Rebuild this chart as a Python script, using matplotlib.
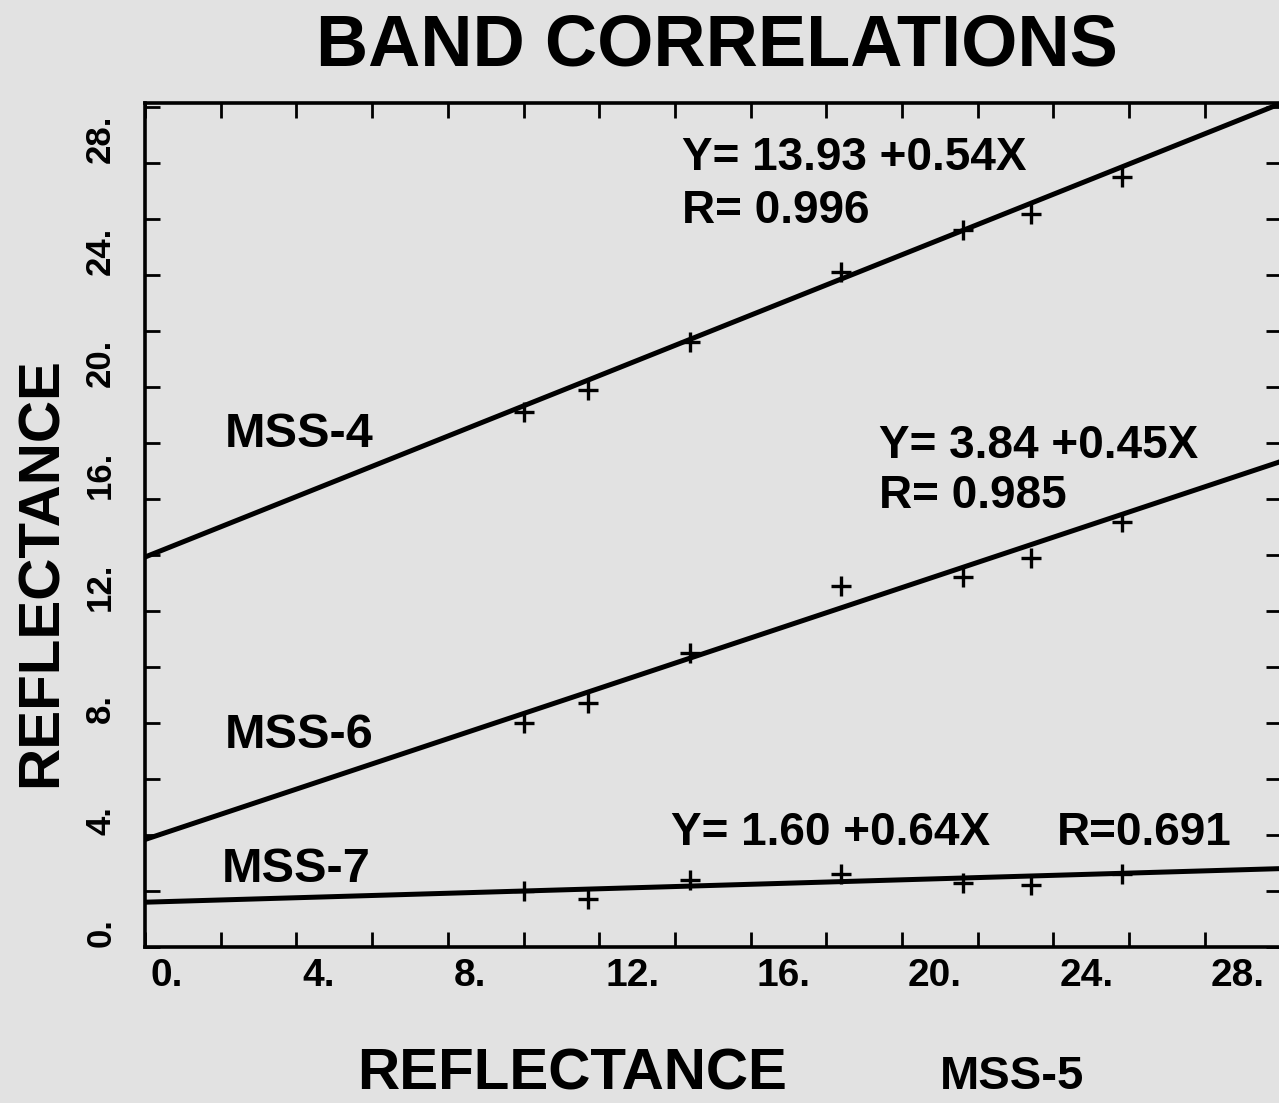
import matplotlib
matplotlib.use("Agg")
import matplotlib.pyplot as plt
import matplotlib.transforms as mtransforms
import numpy as np

# MSS-5 reflectance (x) for the seven sample points
mss5 = [10.0, 11.7, 14.4, 18.4, 21.6, 23.4, 25.8]

# band reflectances
mss4 = [19.1, 19.9, 21.6, 24.1, 25.6, 26.2, 27.5]
mss6 = [8.0, 8.7, 10.5, 12.9, 13.2, 13.9, 15.2]
mss7 = [2.0, 1.7, 2.4, 2.6, 2.3, 2.2, 2.6]

bands = ["MSS-4", "MSS-6", "MSS-7"]
# regression lines as drawn (the MSS-7 line is drawn much flatter than its label says)
intercepts = [13.93, 3.84, 1.60]
slopes = [0.54, 0.45, 0.04]

eq_labels = ["Y= 13.93 +0.54X", "Y= 3.84 +0.45X", "Y= 1.60 +0.64X"]
r_labels = ["R= 0.996", "R= 0.985", "R=0.691"]

xticks_major = [0, 4, 8, 12, 16, 20, 24, 28]
yticks_major = [0, 4, 8, 12, 16, 20, 24, 28]

BG = "#e2e2e2"
FONT = "Liberation Sans"
W, H = 1279, 1103

fig = plt.figure(figsize=(W / 100, H / 100), dpi=100, facecolor=BG)
ax = fig.add_axes([145 / W, 1 - 947 / H, 1135.5 / W, 844 / H], facecolor=BG)

xs = np.array([0, 30])
for b0, b1 in zip(intercepts, slopes):
    ax.plot(xs, b0 + b1 * xs, color="black", lw=3.6, solid_capstyle="butt", zorder=3)

for ys in (mss4, mss6, mss7):
    ax.plot(mss5, ys, linestyle="none", marker="+", ms=14, mew=2.4, color="black", zorder=4)

ax.set_xlim(0, 30)
ax.set_ylim(0, 30.15)

ax.set_xticks(xticks_major)
ax.set_xticks([2, 6, 10, 14, 18, 22, 26], minor=True)
ax.set_yticks(yticks_major)
ax.set_yticks([2, 6, 10, 14, 18, 22, 26, 30], minor=True)
ax.set_xticklabels([f"{v}." for v in xticks_major])
ax.set_yticklabels([f"{v}." for v in yticks_major])

ax.tick_params(which="both", direction="in", top=True, right=True,
               length=11, width=2, color="black")
ax.tick_params(axis="x", pad=8, labelsize=28)
ax.tick_params(axis="y", pad=20, labelsize=25)

# labels sit to the right of their ticks in the original
off = mtransforms.ScaledTranslation(6 / 100, 0, fig.dpi_scale_trans)
for lab in ax.get_xticklabels():
    lab.set_fontweight("bold")
    lab.set_family(FONT)
    lab.set_ha("left")
    lab.set_transform(lab.get_transform() + off)
for lab in ax.get_yticklabels():
    lab.set_fontweight("bold")
    lab.set_family(FONT)
    lab.set_rotation(90)
    lab.set_va("bottom")

for sp in ax.spines.values():
    sp.set_linewidth(2.6)

# annotations (data coordinates)
txt = dict(fontsize=33, fontweight="bold", family=FONT, va="baseline", zorder=5)
ax.text(14.2, 27.75, eq_labels[0], **txt)
ax.text(14.2, 25.86, r_labels[0], **txt)
ax.text(19.4, 17.46, eq_labels[1], **txt)
ax.text(19.4, 15.68, r_labels[1], **txt)
ax.text(13.9, 3.64, eq_labels[2], **txt)
ax.text(24.1, 3.64, r_labels[2], **txt)

band_txt = dict(fontsize=35, fontweight="bold", family=FONT, va="baseline", zorder=5)
ax.text(2.1, 17.86, bands[0], **band_txt)
ax.text(2.1, 7.1, bands[1], **band_txt)
ax.text(2.03, 2.32, bands[2], **band_txt)

# title and axis labels (figure coordinates)
fig.text(717 / W, 1 - 66 / H, "BAND CORRELATIONS", fontsize=52,
         fontweight="bold", family=FONT, ha="center", va="baseline")
fig.text(357 / W, 1 - 1090 / H, "REFLECTANCE", fontsize=42,
         fontweight="bold", family=FONT, ha="left", va="baseline")
fig.text(940 / W, 1 - 1089 / H, "MSS-5", fontsize=34,
         fontweight="bold", family=FONT, ha="left", va="baseline")
fig.text(42 / W, 1 - 572 / H, "REFLECTANCE", fontsize=42, rotation=90,
         fontweight="bold", family=FONT, ha="center", va="center")

fig.savefig("out.png", dpi=100, facecolor=BG)
